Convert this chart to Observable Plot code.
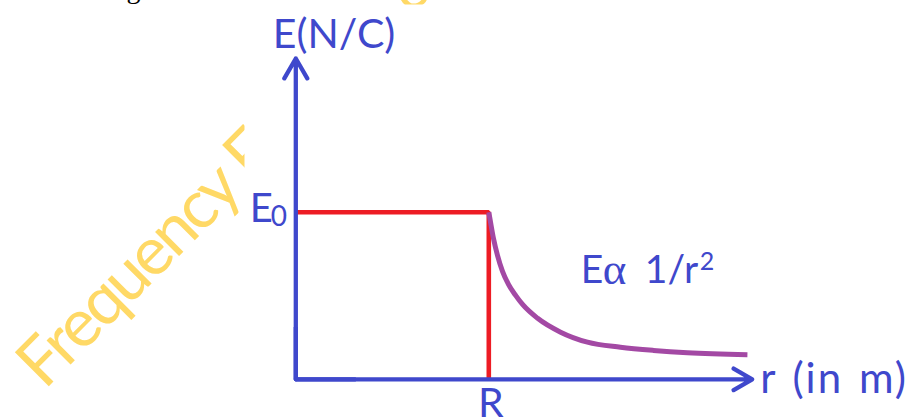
<!DOCTYPE html>
<html>
<head>
<meta charset="utf-8">
<script src="https://cdn.jsdelivr.net/npm/d3@7"></script>
<script src="https://cdn.jsdelivr.net/npm/@observablehq/plot@0.6"></script>
<style>
  html, body { margin: 0; padding: 0; background: #fff; }
  #chart svg { display: block; }
</style>
</head>
<body>
<div id="chart"></div>
<script>
// Field of a uniformly charged sphere: E = E0 inside (r ≤ R), E ∝ 1/r² outside.
// r is measured in units of R, E in units of E0.
const insideR = [0, 1, 1];
const insideE = [1, 1, 0];

const outsideR = [1, 1.009, 1.024, 1.045, 1.071, 1.102, 1.139, 1.175, 1.253, 1.372, 1.511, 1.682, 1.853, 2.029, 2.34];
const outsideE = [1, 0.94, 0.844, 0.742, 0.646, 0.568, 0.502, 0.448, 0.365, 0.282, 0.222, 0.192, 0.173, 0.159, 0.147];

const rAxisEnd = 2.365;   // arrow tip of the r axis
const eAxisEnd = 1.92;    // arrow tip of the E axis

const rTicks = [1];
const rTickLabels = ["R"];
const eTicks = [1];
const eTickLabels = ["E"];
const eTickSubs = ["0"];

const eAxisTitle = "E(N/C)";
const rAxisTitle = "r (in m)";
const lawParts = ["E", "α", "1/r", "2"];
const watermark = "Frequency Frequ";

const blue = "#3f48cc";
const red = "#ed1c24";
const purple = "#a349a4";
const gold = "#ffd966";
const font = "Lato, 'Open Sans', sans-serif";

const inside = insideR.map((r, i) => ({r, e: insideE[i]}));
const outside = outsideR.map((r, i) => ({r, e: outsideE[i]}));

const chart = Plot.plot({
  width: 913,
  height: 419,
  margin: 0,
  axis: null,
  style: {fontFamily: font, background: "white"},
  x: {domain: [0, 1], range: [295.3, 488.3]},
  y: {domain: [0, 1], range: [378.8, 211.7]},
  marks: [
    // faint watermark behind the diagram
    Plot.text([watermark], {
      frameAnchor: "top-left", dx: 44, dy: 390,
      textAnchor: "start", lineAnchor: "bottom", rotate: -45,
      fontSize: 67, fill: gold
    }),
    Plot.text(["o"], {
      frameAnchor: "top-left", dx: 418, dy: 6,
      textAnchor: "middle", lineAnchor: "bottom", rotate: -20,
      fontSize: 60, fill: gold
    }),
    // white panel of the diagram
    Plot.frame({fill: "white", stroke: "none", insetLeft: 244, insetTop: 4}),
    // descender of the caption line above
    Plot.text(["g"], {
      frameAnchor: "top-left", dx: 126, dy: -3,
      textAnchor: "start", lineAnchor: "bottom",
      fontSize: 28, fill: "black", fontFamily: "'Liberation Serif', serif"
    }),
    // constant field inside the sphere, drop at r = R
    Plot.line(inside, {x: "r", y: "e", stroke: red, strokeWidth: 4.6, strokeLinejoin: "miter", strokeLinecap: "butt"}),
    // 1/r² fall-off outside
    Plot.line(outside, {x: "r", y: "e", stroke: purple, strokeWidth: 5, curve: "monotone-x", strokeLinecap: "butt"}),
    // axes with arrow heads
    Plot.line([{r: 0, e: 0.3}, {r: 0, e: 0}, {r: 0.3, e: 0}], {x: "r", y: "e", stroke: blue, strokeWidth: 4.3, strokeLinejoin: "miter", strokeLinecap: "square"}),
    Plot.arrow([{r1: 0, e1: 0, r2: 0, e2: eAxisEnd}], {x1: "r1", y1: "e1", x2: "r2", y2: "e2", stroke: blue, strokeWidth: 4.3, headLength: 8}),
    Plot.arrow([{r1: 0, e1: 0, r2: rAxisEnd, e2: 0}], {x1: "r1", y1: "e1", x2: "r2", y2: "e2", stroke: blue, strokeWidth: 4.3, headLength: 7.5}),
    // tick labels
    Plot.text(rTicks, {x: d => d, y: 0, text: (d, i) => rTickLabels[i], textAnchor: "middle", lineAnchor: "bottom", dx: 2, dy: 38, fontSize: 41, fill: blue}),
    Plot.text(eTicks, {x: 0, y: d => d, text: (d, i) => eTickLabels[i], textAnchor: "start", lineAnchor: "bottom", dx: -46, dy: 10, fontSize: 40, fill: blue}),
    Plot.text(eTicks, {x: 0, y: d => d, text: (d, i) => eTickSubs[i], textAnchor: "start", lineAnchor: "bottom", dx: -25, dy: 13.5, fontSize: 28, fill: blue}),
    // axis titles
    Plot.text([eAxisTitle], {x: 0, y: eAxisEnd, textAnchor: "start", lineAnchor: "bottom", dx: -23, dy: -10, fontSize: 41, fill: blue}),
    Plot.text([rAxisTitle], {x: rAxisEnd, y: 0, textAnchor: "start", lineAnchor: "bottom", dx: 8, dy: 14, fontSize: 42, fill: blue}),
    // proportionality note next to the curve: E α 1/r²
    Plot.text([lawParts[0]], {x: 1, y: 1, textAnchor: "start", lineAnchor: "bottom", dx: 92, dy: 71, fontSize: 39, fill: blue}),
    Plot.text([lawParts[1]], {x: 1, y: 1, textAnchor: "start", lineAnchor: "bottom", dx: 114, dy: 72, fontSize: 45, fill: blue, fontFamily: "'Liberation Serif', serif"}),
    Plot.text([lawParts[2]], {x: 1, y: 1, textAnchor: "start", lineAnchor: "bottom", dx: 156, dy: 71, fontSize: 39, fill: blue}),
    Plot.text([lawParts[3]], {x: 1, y: 1, textAnchor: "start", lineAnchor: "bottom", dx: 211, dy: 58, fontSize: 25, fill: blue})
  ]
});

// spacing tweaks for the long labels
d3.select(chart).selectAll("text")
  .filter(function() { return this.textContent === watermark; })
  .style("letter-spacing", "-3px");
d3.select(chart).selectAll("text")
  .filter(function() { return this.textContent === rAxisTitle; })
  .style("letter-spacing", "2px")
  .style("word-spacing", "3px");

document.getElementById("chart").appendChild(chart);
</script>
</body>
</html>
